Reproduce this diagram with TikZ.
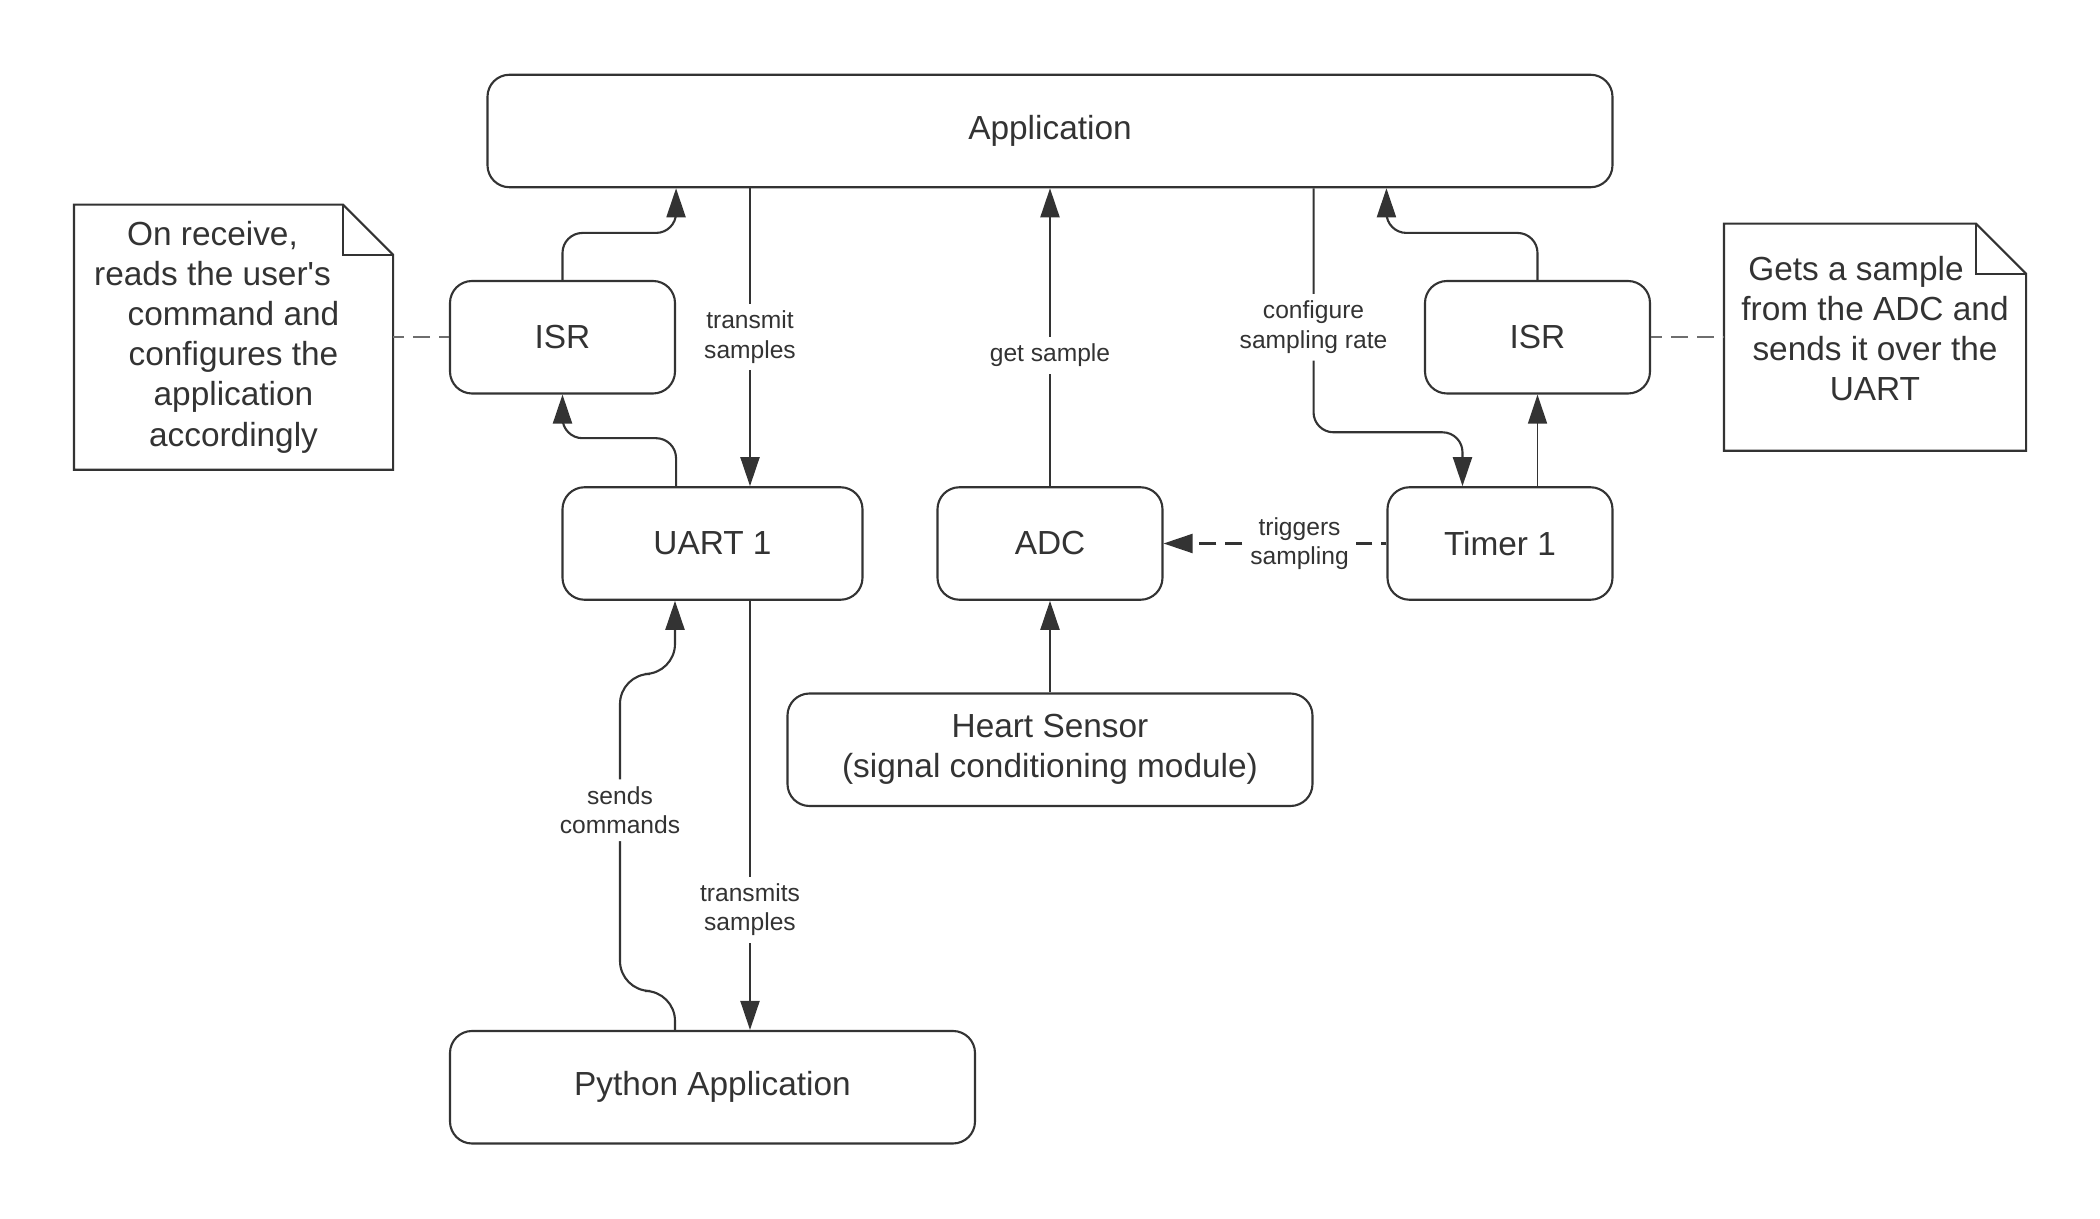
\documentclass[tikz,border=0pt]{standalone}
\usepackage{fontspec}
\setmainfont{Liberation Sans}
\usetikzlibrary{arrows.meta,positioning}

\definecolor{ink}{HTML}{333333}
\definecolor{faint}{HTML}{6E6E6E}

\tikzset{block/.style={draw, rounded corners=2.2mm, minimum width=2.25cm, minimum height=1.125cm,
    align=center, font=\fontsize{9.5}{11.4}\selectfont}}
\tikzset{note/.style={align=center, font=\fontsize{9.5}{11.4}\selectfont}}
\tikzset{lbl/.style={fill=white, align=center, inner sep=2pt, font=\fontsize{7}{8.4}\selectfont}}

\begin{document}
\begin{tikzpicture}[>={Triangle[width=1.9mm,length=2.9mm]},node distance=2.0625cm,on grid,
        color=ink,line width=0.6pt]
            \useasboundingbox (0,0) rectangle (21,-12.19);
            \node[block, minimum width=11.25cm] (app) at (10.5,-1.31) {Application};
            \node[block]          (isrl)   [below left =2.0625cm and 4.875cm of app]  {ISR};
            \node[block]          (isrr)   [below right =2.0625cm and 4.875cm of app] {ISR};
            \node[block, minimum width=3cm]    (uart)   [below right =2.0625cm and 1.5cm of isrl] {UART 1};
            \node[block]          (adc)    [below =4.125cm of app]    {ADC};
            \node[block]          (timer)  [below left =2.0625cm and 0.375cm of isrr] {Timer 1};
            \node[block, minimum width=5.25cm] (heart)  [below =of adc] {Heart Sensor\\(signal conditioning module)};
            \node[block, minimum width=5.25cm] (python) [below =5.4375cm of uart] {Python Application};
            \node[note, minimum width=3.17cm, minimum height=2.63cm] (notel) [left =3.29cm of isrl] {};
            \node[note, minimum width=3cm, minimum height=2.25cm] (noter) [right =3.375cm of isrr] {};
            \node[note] at (notel.center)
                {On receive,\rule{0.42cm}{0pt}\\reads the user\textquotesingle s\rule{0.42cm}{0pt}\\command and\\configures the\\application\\accordingly};
            \node[note] at ([yshift=0.09cm]noter.center)
                {Gets a sample\rule{0.38cm}{0pt}\\from the ADC and\\sends it over the\\UART};
            % note outlines with folded corner
            \foreach \n in {notel,noter} {
                \draw (\n.south west) -- (\n.north west) -- ([xshift=-5mm]\n.north east)
                    -- ([yshift=-5mm]\n.north east) -- (\n.south east) -- cycle;
                \draw ([xshift=-5mm]\n.north east) |- ([yshift=-5mm]\n.north east);
            }
            \tikzset{notelink/.style={faint, line width=0.45pt, dash pattern=on 1.7mm off 0.9mm, dash phase=0.6mm}}
            \draw[notelink] (notel.east) -- (isrl.west);
            \draw[notelink] (isrr.east) -- (noter.west);
            \coordinate (uarttx) at ([xshift=3.75mm]uart.north);
            \coordinate (uartrx) at ([xshift=3.75mm]uart.south);
            \draw[->] (app.south -| uarttx) -- node[lbl] {transmit\\samples} (uarttx);
            \draw[->] (uartrx) -- node[lbl, pos=0.72] {transmits\\samples} (python.north -| uartrx);
            \draw[->, rounded corners=2mm] (isrl.north) -- ++(0,0.47) -| (isrl.east |- app.south);
            \draw[->, rounded corners=2mm] (isrl.east |- uart.north) -- ++(0,0.48) -| (isrl.south);
            \draw[->, rounded corners=2mm] (isrr.north) -- ++(0,0.47) -| (timer.west |- app.south);
            \draw[->, rounded corners=2mm] (app.south -| heart.east)
                -- node[lbl, pos=0.57] {configure\\sampling rate} ++(0,-2.44) -| ([xshift=-3.75mm]timer.north);
            \draw[->, rounded corners=3mm] ([xshift=-3.75mm]python.north) -- ++(0,0.39) -- ++(-0.55,0)
                -- node[lbl, pos=0.57] {sends\\commands} ++(0,3.17) -- ++(0.55,0) -- ([xshift=-3.75mm]uart.south);
            \draw[->, line width=0.4pt] ([xshift=3.75mm]timer.north) -- (isrr.south);
            \path (adc)   edge [->]   node[lbl, pos=0.44] {get sample} (app);
            \path (heart) edge [->]   (adc);
            \path (timer) edge [->, dash pattern=on 1.7mm off 0.9mm, dash phase=1.2mm]
                node[lbl, pos=0.39] {triggers\\sampling} (adc);
        \end{tikzpicture}
\end{document}
